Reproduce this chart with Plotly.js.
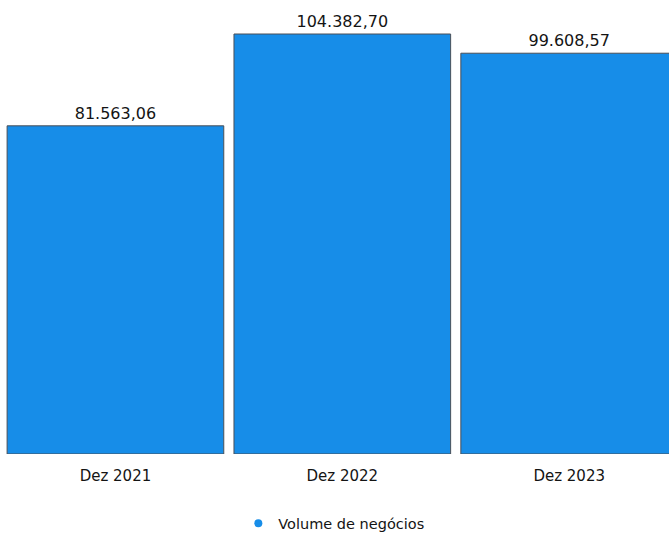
<!DOCTYPE html>
<html>
<head>
<meta charset="utf-8">
<script src="https://cdn.plot.ly/plotly-3.0.1.min.js"></script>
<style>html,body{margin:0;padding:0;background:#fff;overflow:hidden}#chart{width:669px;height:535px}</style>
</head>
<body>
<div id="chart"></div>
<script>
const categories = ["Dez 2021", "Dez 2022", "Dez 2023"];
const values = [81563.06, 104382.70, 99608.57];
const seriesName = "Volume de negócios";
const barColor = "#178de8";

const bar = {
  type: "bar",
  x: categories,
  y: values,
  marker: {color: barColor, line: {color: "#4a4f57", width: 1}},
  text: values,
  texttemplate: "%{y:,.2f}",
  textposition: "outside",
  cliponaxis: false,
  textfont: {family: "DejaVu Sans", size: 16, color: "#141414"},
  showlegend: false,
  hoverinfo: "none"
};
const legendDot = {
  type: "scatter",
  mode: "markers",
  x: [null], y: [null],
  name: seriesName,
  marker: {color: barColor, size: 8, symbol: "circle"},
  showlegend: true
};

Plotly.newPlot("chart", [bar, legendDot], {
  width: 669, height: 535,
  margin: {l: 2, r: 0, t: 0, b: 81},
  separators: ",.",
  paper_bgcolor: "#fff",
  plot_bgcolor: "#fff",
  bargap: 0.045,
  font: {family: "DejaVu Sans", color: "#141414"},
  xaxis: {
    type: "category",
    range: [-0.5, 2.44],
    showgrid: false, zeroline: false, showline: false,
    ticks: "outside", ticklen: 8, tickcolor: "rgba(0,0,0,0)",
    tickfont: {family: "DejaVu Sans", size: 15, color: "#141414"}
  },
  yaxis: {
    range: [0, 112833],
    visible: false, showgrid: false, zeroline: false
  },
  legend: {
    orientation: "h",
    xref: "container", yref: "container",
    x: 0.499, xanchor: "center",
    y: 0.022, yanchor: "middle",
    font: {family: "DejaVu Sans", size: 14.5, color: "#141414"}
  }
}, {staticPlot: true});
</script>
</body>
</html>
